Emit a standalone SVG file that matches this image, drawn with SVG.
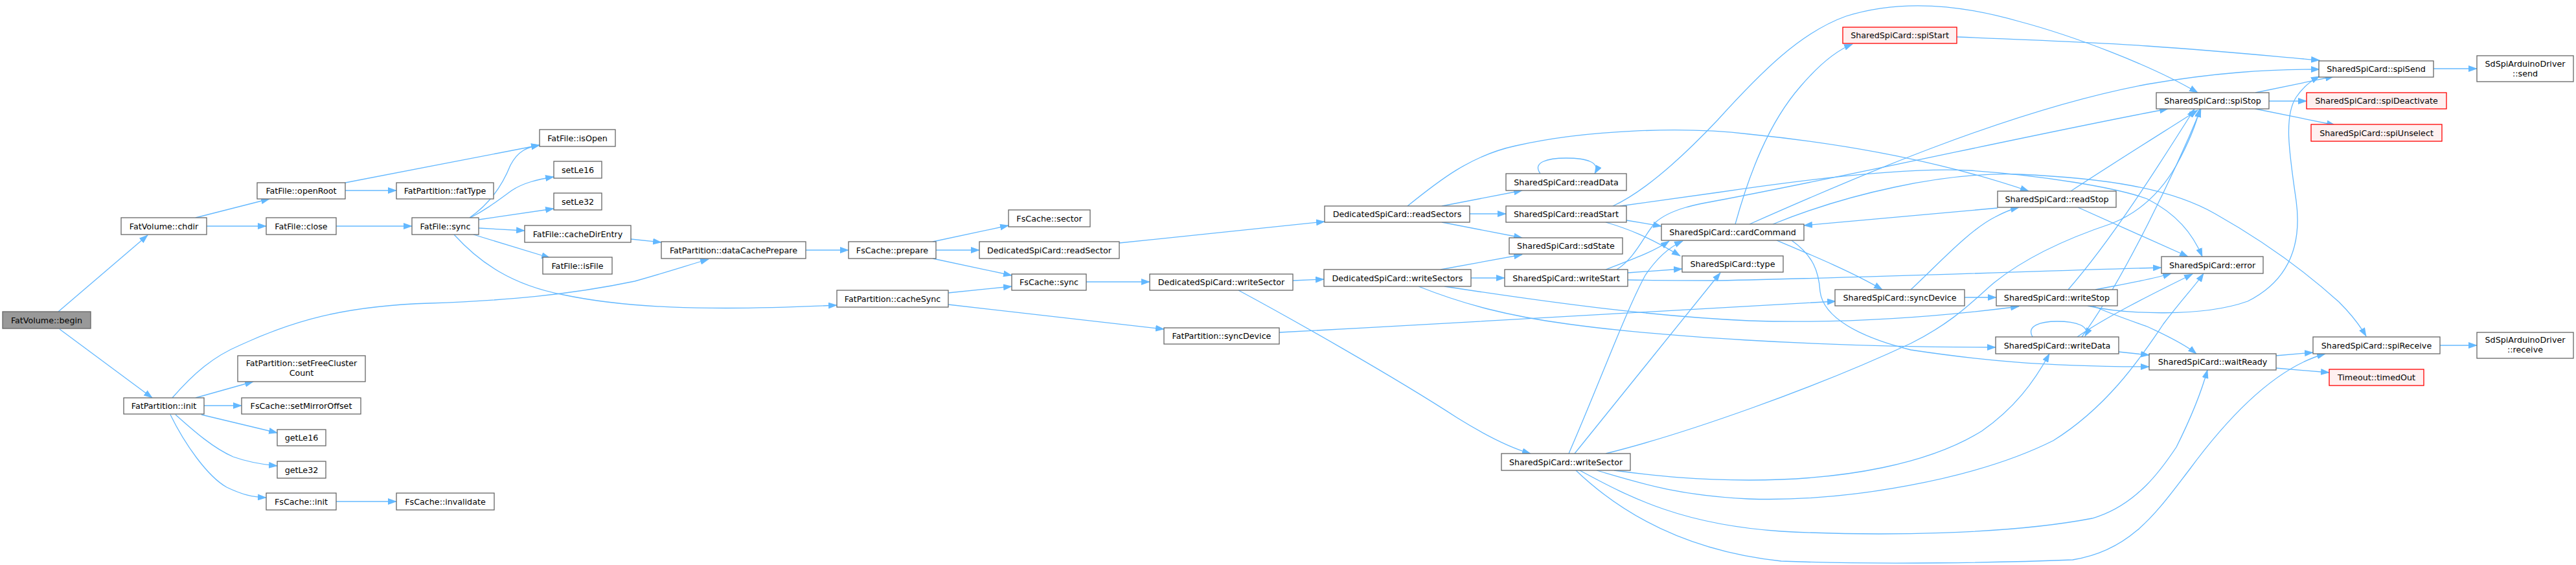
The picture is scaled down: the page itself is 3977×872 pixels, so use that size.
<svg xmlns="http://www.w3.org/2000/svg" width="3977" height="872" viewBox="0 0 3977 872">
<style>
.n rect{fill:#fff;stroke:#666;stroke-width:1.3}
.root rect{fill:#999;stroke:#666;stroke-width:1.3}
.red rect{fill:#fff0f0;stroke:#f00;stroke-width:1.3}
text{font-family:"DejaVu Sans","Liberation Sans",sans-serif;font-size:12.7px;fill:#000;text-anchor:middle}
.e path{fill:none;stroke:#63b8ff;stroke-width:1.3;marker-end:url(#a)}
</style>
<defs>
<marker id="a" markerUnits="userSpaceOnUse" markerWidth="14" markerHeight="10" refX="13" refY="5" orient="auto"><path d="M0,0L14,5L0,10z" fill="#63b8ff"/></marker>
</defs>
<rect width="3977" height="872" fill="#fff"/>
<g class="e" id="edges">
<path d="M90,481L228,363"/>
<path d="M92,508L235,614"/>
<path d="M302,336L416,307"/>
<path d="M319,349L411,349"/>
<path d="M533,282L833,224"/>
<path d="M533,294L612,294"/>
<path d="M519,349L636,349"/>
<path d="M725,336C760,312 778,280 788,255C800,232 815,227 833,224"/>
<path d="M726,336C750,324 768,310 790,294C808,282 830,277 855,273"/>
<path d="M739,339L855,322"/>
<path d="M739,352L810,356"/>
<path d="M731,362L849,398"/>
<path d="M701,362C740,405 790,440 870,455C960,474 1080,481 1292,471"/>
<path d="M974,369L1021,374"/>
<path d="M266,614C300,575 330,550 370,533C450,496 530,472 663,468C780,464 880,455 980,434C1030,420 1060,410 1094,400"/>
<path d="M302,614L391,589"/>
<path d="M315,626L373,626"/>
<path d="M311,640L428,668"/>
<path d="M271,640C300,666 330,692 360,705C385,714 405,717 428,719"/>
<path d="M263,640C285,685 320,735 350,752C375,764 390,767 411,768"/>
<path d="M519,774L612,774"/>
<path d="M1244,386L1310,386"/>
<path d="M1464,452L1562,442"/>
<path d="M1464,470L1797,508"/>
<path d="M1440,373L1557,348"/>
<path d="M1445,386L1512,386"/>
<path d="M1440,399L1562,425"/>
<path d="M1677,435L1775,435"/>
<path d="M1728,375L2045,342"/>
<path d="M1996,433L2044,431"/>
<path d="M1912,448C1990,490 2150,580 2250,645C2300,676 2335,692 2363,700"/>
<path d="M1975,513C2300,496 2650,476 2834,465"/>
<path d="M2226,318L2350,294"/>
<path d="M2269,330L2325,330"/>
<path d="M2226,343L2350,367"/>
<path d="M2173,318C2220,280 2270,240 2340,225C2450,200 2600,195 2700,207C2850,222 3000,250 3132,295"/>
<path d="M2378,268C2365,250 2390,244 2418,244C2448,244 2472,250 2462,268"/>
<path d="M2224,416L2350,393"/>
<path d="M2271,429L2323,429"/>
<path d="M2230,442C2400,468 2550,488 2700,495C2850,500 3000,488 3117,473"/>
<path d="M2190,442C2260,470 2330,488 2420,500C2550,518 2800,536 3081,536"/>
<path d="M2490,318C2540,295 2600,240 2652,185C2720,110 2780,50 2850,25C2930,0 3020,5 3117,33C3200,55 3320,100 3393,143"/>
<path d="M2511,340L2565,349"/>
<path d="M2479,343C2510,352 2545,365 2594,395"/>
<path d="M2501,318L2652,297C2800,275 2950,258 3040,263C3150,270 3270,290 3315,307C3360,330 3385,360 3400,396"/>
<path d="M2479,416C2520,400 2550,390 2577,372"/>
<path d="M2513,421L2597,415"/>
<path d="M2496,416C2525,398 2540,360 2556,343C2580,322 2620,315 2660,308C2900,262 3150,205 3347,168"/>
<path d="M2513,432C2560,433 2600,433 2652,433C2900,428 3150,418 3337,413"/>
<path d="M2679,346C2700,270 2730,190 2780,133C2810,98 2835,78 2860,68"/>
<path d="M2701,346C2850,280 3100,170 3315,130C3420,112 3500,107 3581,107"/>
<path d="M2737,346C2850,300 3000,265 3117,269C3250,275 3350,290 3420,330C3500,375 3560,420 3611,466C3630,485 3645,505 3653,519"/>
<path d="M2743,371C2800,395 2860,420 2906,447"/>
<path d="M2766,371C2800,395 2808,420 2810,450C2815,490 2870,520 2950,540C3050,555 3150,566 3318,566"/>
<path d="M3084,321L2785,348"/>
<path d="M3197,295C3250,260 3330,210 3393,170"/>
<path d="M3208,320L3378,396"/>
<path d="M3033,459L3082,459"/>
<path d="M2950,447C2990,410 3040,355 3080,335C3095,327 3105,323 3117,320"/>
<path d="M3231,472C3260,485 3290,495 3315,504C3350,520 3375,533 3391,546"/>
<path d="M3223,472C3280,485 3400,490 3470,465C3540,430 3553,370 3545,310C3535,240 3525,180 3545,150C3555,135 3567,125 3581,118"/>
<path d="M3235,447C3270,440 3320,432 3352,422"/>
<path d="M3193,447C3260,370 3330,260 3388,168"/>
<path d="M3138,520C3128,503 3150,496 3176,496C3205,496 3228,503 3219,519"/>
<path d="M3271,543L3318,548"/>
<path d="M3207,520C3250,490 3320,455 3385,423"/>
<path d="M3214,520C3280,430 3360,260 3398,168"/>
<path d="M2492,726C2560,735 2620,741 2700,741C2850,741 2980,715 3060,665C3110,630 3140,590 3164,546"/>
<path d="M2465,726C2530,745 2590,765 2700,770C2850,775 3050,740 3170,680C3250,630 3300,560 3340,500C3370,460 3390,440 3402,422"/>
<path d="M2439,726C2520,770 2600,810 2750,820C2900,828 3100,825 3230,800C3300,780 3340,720 3360,690C3385,640 3400,600 3408,571"/>
<path d="M2433,726C2500,790 2600,850 2750,866C2900,872 3100,868 3200,864C3290,850 3330,790 3380,725C3450,630 3520,565 3590,546"/>
<path d="M2431,700L2656,421"/>
<path d="M2422,700C2470,590 2510,480 2540,425C2560,395 2580,380 2598,372"/>
<path d="M2479,700C2600,670 2800,600 2950,530C3020,495 3050,460 3079,436C3130,395 3200,365 3260,345C3310,325 3340,290 3360,255C3378,222 3390,195 3396,168"/>
<path d="M3482,143L3603,118"/>
<path d="M3503,156L3561,156"/>
<path d="M3482,168L3605,193"/>
<path d="M3021,57C3150,62 3250,66 3315,71C3420,78 3500,86 3581,93"/>
<path d="M3757,106L3824,106"/>
<path d="M3767,533L3824,533"/>
<path d="M3513,549L3571,544"/>
<path d="M3513,568L3596,575"/>
</g>
<g id="n1" class="root"><rect x="4" y="481" width="136" height="26"/><text x="72" y="498.5">FatVolume::begin</text></g>
<g id="n2" class="n"><rect x="187" y="336" width="132" height="26"/><text x="253" y="353.5">FatVolume::chdir</text></g>
<g id="n3" class="n"><rect x="191" y="614" width="124" height="25"/><text x="253" y="631">FatPartition::init</text></g>
<g id="n4" class="n"><rect x="397" y="282" width="136" height="25"/><text x="465" y="299">FatFile::openRoot</text></g>
<g id="n5" class="n"><rect x="411" y="336" width="108" height="26"/><text x="465" y="353.5">FatFile::close</text></g>
<g id="n6" class="n"><rect x="367" y="549" width="197" height="40"/><text x="465.5" y="564.5">FatPartition::setFreeCluster</text><text x="465.5" y="579.5">Count</text></g>
<g id="n7" class="n"><rect x="373" y="614" width="184" height="25"/><text x="465" y="631">FsCache::setMirrorOffset</text></g>
<g id="n8" class="n"><rect x="428" y="663" width="75" height="25"/><text x="465.5" y="680">getLe16</text></g>
<g id="n9" class="n"><rect x="428" y="712" width="75" height="26"/><text x="465.5" y="729.5">getLe32</text></g>
<g id="n10" class="n"><rect x="411" y="761" width="108" height="26"/><text x="465" y="778.5">FsCache::init</text></g>
<g id="n11" class="n"><rect x="612" y="282" width="150" height="25"/><text x="687" y="299">FatPartition::fatType</text></g>
<g id="n12" class="n"><rect x="636" y="336" width="103" height="26"/><text x="687.5" y="353.5">FatFile::sync</text></g>
<g id="n13" class="n"><rect x="612" y="761" width="151" height="26"/><text x="687.5" y="778.5">FsCache::invalidate</text></g>
<g id="n14" class="n"><rect x="833" y="200" width="117" height="26"/><text x="891.5" y="217.5">FatFile::isOpen</text></g>
<g id="n15" class="n"><rect x="855" y="249" width="74" height="26"/><text x="892" y="266.5">setLe16</text></g>
<g id="n16" class="n"><rect x="855" y="298" width="74" height="26"/><text x="892" y="315.5">setLe32</text></g>
<g id="n17" class="n"><rect x="810" y="348" width="164" height="26"/><text x="892" y="365.5">FatFile::cacheDirEntry</text></g>
<g id="n18" class="n"><rect x="838" y="397" width="107" height="26"/><text x="891.5" y="414.5">FatFile::isFile</text></g>
<g id="n19" class="n"><rect x="1021" y="373" width="223" height="26"/><text x="1132.5" y="390.5">FatPartition::dataCachePrepare</text></g>
<g id="n20" class="n"><rect x="1292" y="448" width="172" height="26"/><text x="1378" y="465.5">FatPartition::cacheSync</text></g>
<g id="n21" class="n"><rect x="1310" y="373" width="135" height="26"/><text x="1377.5" y="390.5">FsCache::prepare</text></g>
<g id="n22" class="n"><rect x="1557" y="324" width="126" height="26"/><text x="1620" y="341.5">FsCache::sector</text></g>
<g id="n23" class="n"><rect x="1512" y="373" width="216" height="26"/><text x="1620" y="390.5">DedicatedSpiCard::readSector</text></g>
<g id="n24" class="n"><rect x="1562" y="423" width="115" height="25"/><text x="1619.5" y="440">FsCache::sync</text></g>
<g id="n25" class="n"><rect x="1797" y="506" width="178" height="25"/><text x="1886" y="523">FatPartition::syncDevice</text></g>
<g id="n26" class="n"><rect x="1775" y="423" width="221" height="25"/><text x="1885.5" y="440">DedicatedSpiCard::writeSector</text></g>
<g id="n27" class="n"><rect x="2045" y="318" width="224" height="25"/><text x="2157" y="335">DedicatedSpiCard::readSectors</text></g>
<g id="n28" class="n"><rect x="2044" y="416" width="227" height="26"/><text x="2157.5" y="433.5">DedicatedSpiCard::writeSectors</text></g>
<g id="n29" class="n"><rect x="2318" y="700" width="199" height="26"/><text x="2417.5" y="717.5">SharedSpiCard::writeSector</text></g>
<g id="n30" class="n"><rect x="2325" y="268" width="186" height="26"/><text x="2418" y="285.5">SharedSpiCard::readData</text></g>
<g id="n31" class="n"><rect x="2325" y="318" width="186" height="25"/><text x="2418" y="335">SharedSpiCard::readStart</text></g>
<g id="n32" class="n"><rect x="2330" y="367" width="175" height="25"/><text x="2417.5" y="384">SharedSpiCard::sdState</text></g>
<g id="n33" class="n"><rect x="2323" y="416" width="190" height="26"/><text x="2418" y="433.5">SharedSpiCard::writeStart</text></g>
<g id="n34" class="n"><rect x="2565" y="346" width="220" height="25"/><text x="2675" y="363">SharedSpiCard::cardCommand</text></g>
<g id="n35" class="n"><rect x="2597" y="395" width="156" height="25"/><text x="2675" y="412">SharedSpiCard::type</text></g>
<g id="n36" class="red"><rect x="2845" y="42" width="176" height="25"/><text x="2933" y="59">SharedSpiCard::spiStart</text></g>
<g id="n37" class="n"><rect x="3084" y="295" width="183" height="25"/><text x="3175.5" y="312">SharedSpiCard::readStop</text></g>
<g id="n38" class="n"><rect x="2833" y="447" width="200" height="25"/><text x="2933" y="464">SharedSpiCard::syncDevice</text></g>
<g id="n39" class="n"><rect x="3082" y="447" width="187" height="25"/><text x="3175.5" y="464">SharedSpiCard::writeStop</text></g>
<g id="n40" class="n"><rect x="3081" y="520" width="190" height="26"/><text x="3176" y="537.5">SharedSpiCard::writeData</text></g>
<g id="n41" class="n"><rect x="3329" y="143" width="174" height="25"/><text x="3416" y="160">SharedSpiCard::spiStop</text></g>
<g id="n42" class="n"><rect x="3337" y="396" width="157" height="26"/><text x="3415.5" y="413.5">SharedSpiCard::error</text></g>
<g id="n43" class="n"><rect x="3318" y="546" width="196" height="25"/><text x="3416" y="563">SharedSpiCard::waitReady</text></g>
<g id="n44" class="n"><rect x="3580" y="94" width="177" height="25"/><text x="3668.5" y="111">SharedSpiCard::spiSend</text></g>
<g id="n45" class="red"><rect x="3561" y="143" width="216" height="25"/><text x="3669" y="160">SharedSpiCard::spiDeactivate</text></g>
<g id="n46" class="red"><rect x="3568" y="192" width="202" height="26"/><text x="3669" y="209.5">SharedSpiCard::spiUnselect</text></g>
<g id="n47" class="n"><rect x="3571" y="520" width="196" height="26"/><text x="3669" y="537.5">SharedSpiCard::spiReceive</text></g>
<g id="n48" class="red"><rect x="3596" y="570" width="146" height="25"/><text x="3669" y="587">Timeout::timedOut</text></g>
<g id="n49" class="n"><rect x="3824" y="86" width="149" height="40"/><text x="3898.5" y="102.5">SdSpiArduinoDriver</text><text x="3898.5" y="117.5">::send</text></g>
<g id="n50" class="n"><rect x="3824" y="513" width="149" height="40"/><text x="3898.5" y="528.5">SdSpiArduinoDriver</text><text x="3898.5" y="543.5">::receive</text></g>
</svg>
